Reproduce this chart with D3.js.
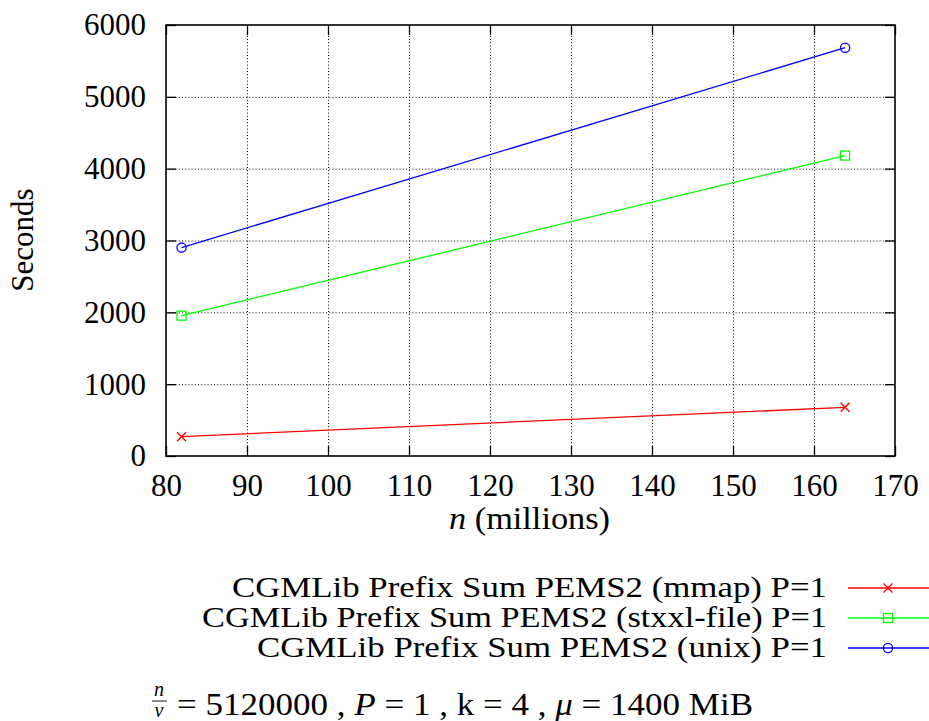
<!DOCTYPE html>
<html>
<head>
<meta charset="utf-8">
<script src="https://cdn.jsdelivr.net/npm/d3@7"></script>
<style>
  body { margin: 0; background: #fff; }
  svg { display: block; }
  .grid line { stroke: #000; stroke-width: 1; stroke-dasharray: 1,2.2; }
  .grid path { display: none; }
  .axis path { display: none; }
  .axis line { stroke: #000; stroke-width: 1.3; }
</style>
</head>
<body>
<div id="canvas"></div>
<script>
// values (x in millions of items, y in seconds)
const nMillions = [81.92, 163.84];
const mmapSecs = [269, 678];
const stxxlSecs = [1954, 4182];
const unixSecs = [2901, 5684];

const xTicks = [80, 90, 100, 110, 120, 130, 140, 150, 160, 170];
const yTicks = [0, 1000, 2000, 3000, 4000, 5000, 6000];

const seriesNames = [
  'CGMLib Prefix Sum PEMS2 (mmap) P=1',
  'CGMLib Prefix Sum PEMS2 (stxxl-file) P=1',
  'CGMLib Prefix Sum PEMS2 (unix) P=1'
];
const seriesColors = ['#ff0000', '#00ff00', '#0000ff'];
const seriesMarks = ['cross', 'square', 'circle'];

const w = 929;
const h = 721;
const plotLeft = 166, plotRight = 895, plotTop = 25, plotBottom = 456;
const serif = "'Liberation Serif', monospace";

const xScale = d3.scaleLinear().domain([80, 170]).range([plotLeft, plotRight]);
const yScale = d3.scaleLinear().domain([0, 6000]).range([plotBottom, plotTop]);

const svg = d3.select('#canvas')
  .append('svg')
  .attr('width', w)
  .attr('height', h);

// grid
svg.append('g')
  .attr('class', 'grid')
  .attr('transform', 'translate(0,' + plotBottom + ')')
  .call(d3.axisBottom(xScale).tickValues(xTicks.slice(1, -1)).tickSize(-(plotBottom - plotTop)).tickFormat(''));
svg.append('g')
  .attr('class', 'grid')
  .attr('transform', 'translate(' + plotLeft + ',0)')
  .call(d3.axisLeft(yScale).tickValues(yTicks.slice(1, -1)).tickSize(-(plotRight - plotLeft)).tickFormat(''));

// axes, ticks pointing inward
svg.append('g')
  .attr('class', 'axis')
  .attr('transform', 'translate(0,' + plotBottom + ')')
  .call(d3.axisBottom(xScale).tickValues(xTicks).tickFormat(d3.format('d')).tickSize(-10).tickSizeOuter(0).tickPadding(18));
svg.append('g')
  .attr('class', 'axis')
  .attr('transform', 'translate(0,' + plotTop + ')')
  .call(d3.axisTop(xScale).tickValues(xTicks).tickSize(-10).tickSizeOuter(0).tickFormat(''));
svg.append('g')
  .attr('class', 'axis')
  .attr('transform', 'translate(' + plotLeft + ',0)')
  .call(d3.axisLeft(yScale).tickValues(yTicks).tickFormat(d3.format('d')).tickSize(-10).tickSizeOuter(0).tickPadding(20));
svg.append('g')
  .attr('class', 'axis')
  .attr('transform', 'translate(' + plotRight + ',0)')
  .call(d3.axisRight(yScale).tickValues(yTicks).tickSize(-10).tickSizeOuter(0).tickFormat(''));

svg.selectAll('.axis')
  .attr('font-family', serif)
  .attr('font-size', 31);

svg.append('rect')
  .attr('x', plotLeft)
  .attr('y', plotTop)
  .attr('width', plotRight - plotLeft)
  .attr('height', plotBottom - plotTop)
  .attr('fill', 'none')
  .attr('stroke', '#000')
  .attr('stroke-width', 1.6);

// series
const seriesValues = [mmapSecs, stxxlSecs, unixSecs];
const line = d3.line()
  .x((d) => xScale(d[0]))
  .y((d) => yScale(d[1]));

function drawMark(g, kind, color, cx, cy) {
  if (kind === 'cross') {
    g.append('path')
      .attr('d', 'M' + (cx - 4.5) + ',' + (cy - 4.5) + 'L' + (cx + 4.5) + ',' + (cy + 4.5) +
                 'M' + (cx - 4.5) + ',' + (cy + 4.5) + 'L' + (cx + 4.5) + ',' + (cy - 4.5))
      .attr('stroke', color).attr('stroke-width', 1.3).attr('fill', 'none');
  } else if (kind === 'square') {
    g.append('rect')
      .attr('x', cx - 4.5).attr('y', cy - 4.5).attr('width', 9).attr('height', 9)
      .attr('stroke', color).attr('stroke-width', 1.3).attr('fill', 'none');
  } else {
    g.append('circle')
      .attr('cx', cx).attr('cy', cy).attr('r', 4.6)
      .attr('stroke', color).attr('stroke-width', 1.3).attr('fill', 'none');
  }
}

seriesValues.forEach((vals, i) => {
  const pts = nMillions.map((n, j) => [n, vals[j]]);
  const g = svg.append('g');
  g.append('path')
    .attr('d', line(pts))
    .attr('fill', 'none')
    .attr('stroke', seriesColors[i])
    .attr('stroke-width', 1.3);
  pts.forEach((p) => drawMark(g, seriesMarks[i], seriesColors[i], xScale(p[0]), yScale(p[1])));
});

// all other text in the serif face
const labels = svg.append('g')
  .attr('font-family', serif)
  .attr('fill', '#000');

labels.append('text')
  .attr('transform', 'translate(33,240) rotate(-90)')
  .attr('text-anchor', 'middle')
  .attr('font-size', 31)
  .text('Seconds');

const xTitle = labels.append('text')
  .attr('x', 449)
  .attr('y', 529)
  .attr('font-size', 31)
  .attr('textLength', 161)
  .attr('lengthAdjust', 'spacingAndGlyphs');
xTitle.append('tspan').attr('font-style', 'italic').text('n');
xTitle.append('tspan').text(' (millions)');

// legend
const legendY = [588, 618, 648];
const legendTextStart = [232, 202, 257];
seriesNames.forEach((name, i) => {
  labels.append('text')
    .attr('x', legendTextStart[i])
    .attr('y', legendY[i] + 9)
    .attr('font-size', 30)
    .attr('textLength', 827 - legendTextStart[i])
    .attr('lengthAdjust', 'spacingAndGlyphs')
    .text(name);
  svg.append('line')
    .attr('x1', 848).attr('x2', 929)
    .attr('y1', legendY[i]).attr('y2', legendY[i])
    .attr('stroke', seriesColors[i]).attr('stroke-width', 1.3);
  drawMark(svg, seriesMarks[i], seriesColors[i], 888, legendY[i]);
});

// footer formula
labels.append('text').attr('x', 159).attr('y', 696).attr('text-anchor', 'middle')
  .attr('font-size', 20).attr('font-style', 'italic').text('n');
svg.append('line').attr('x1', 152).attr('x2', 167).attr('y1', 701).attr('y2', 701)
  .attr('stroke', '#000').attr('stroke-width', 0.9);
labels.append('text').attr('x', 159).attr('y', 717).attr('text-anchor', 'middle')
  .attr('font-size', 20).attr('font-style', 'italic').text('v');

const foot = labels.append('text')
  .attr('x', 177)
  .attr('y', 715)
  .attr('font-size', 31)
  .attr('textLength', 753 - 177)
  .attr('lengthAdjust', 'spacingAndGlyphs');
foot.append('tspan').text('= 5120000 , ');
foot.append('tspan').attr('font-style', 'italic').text('P');
foot.append('tspan').text(' = 1 , k = 4 , ');
foot.append('tspan').attr('font-style', 'italic').text('μ');
foot.append('tspan').text(' = 1400 MiB');
</script>
</body>
</html>
